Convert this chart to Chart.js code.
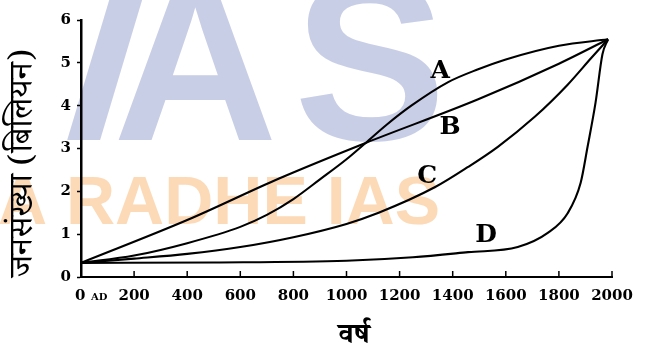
<!DOCTYPE html>
<html>
<head>
<meta charset="utf-8">
<script src="https://cdn.jsdelivr.net/npm/chart.js@4.4.1/dist/chart.umd.min.js"></script>
<style>
  html, body { margin: 0; padding: 0; background: #fff; }
  #wrap { width: 652px; height: 356px; }
</style>
</head>
<body>
<div id="wrap"><canvas id="chart" width="652" height="356"></canvas></div>
<script>
// --- Data (years, population in billions) ---
const yearTicks = [0, 200, 400, 600, 800, 1000, 1200, 1400, 1600, 1800, 2000];
const popTicks = [0, 1, 2, 3, 4, 5, 6];

const yearsA = [0, 200, 400, 600, 700, 800, 900, 1000, 1072, 1150, 1244, 1383, 1496, 1600, 1800, 1985];
const popA   = [0.33, 0.5, 0.79, 1.17, 1.45, 1.82, 2.28, 2.75, 3.13, 3.55, 4.0, 4.55, 4.85, 5.08, 5.4, 5.55];

const yearsB = [0, 400, 746, 1072, 1496, 1800, 1985];
const popB   = [0.33, 1.33, 2.3, 3.13, 4.15, 4.98, 5.55];

const yearsC = [0, 200, 400, 600, 800, 1000, 1121, 1334, 1458, 1570, 1709, 1833, 1920, 1985];
const popC   = [0.33, 0.43, 0.54, 0.7, 0.93, 1.24, 1.5, 2.1, 2.57, 3.04, 3.74, 4.49, 5.1, 5.55];

const yearsD = [0, 500, 1000, 1250, 1458, 1645, 1758, 1833, 1882, 1908, 1938, 1964, 1985];
const popD   = [0.33, 0.34, 0.38, 0.46, 0.58, 0.7, 1.03, 1.49, 2.2, 3.04, 4.07, 5.2, 5.55];

// curve names and where they are written (in data units)
const curveNames = ['A', 'B', 'C', 'D'];
const nameYears  = [1353, 1390, 1304, 1526];
const nameValues = [4.79, 3.5, 2.34, 0.98];

const xTitle = 'वर्ष';
const yTitle = 'जनसंख्या (बिलियन)';

// --- Helpers ---
function toPoints(xs, ys) {
    return xs.map((x, i) => ({ x: x, y: ys[i] }));
}

function curve(label, xs, ys) {
    return {
        label: label,
        data: toPoints(xs, ys),
        borderColor: '#000',
        borderWidth: 2.1,
        pointRadius: 0,
        fill: false,
        cubicInterpolationMode: 'monotone'
    };
}

const serif = '"DejaVu Serif", serif';
const deva = '"Noto Serif Devanagari", "Noto Sans Devanagari", "Lohit Devanagari", "FreeSerif", serif';

// watermarks, axis titles, curve names, inward x ticks
const decorPlugin = {
    id: 'decor',
    beforeDraw(chart) {
        const ctx = chart.ctx;
        ctx.save();
        ctx.fillStyle = '#fff';
        ctx.fillRect(0, 0, chart.width, chart.height);
        ctx.textBaseline = 'alphabetic';
        ctx.fillStyle = '#c9cee7';
        ctx.font = 'bold 228px "Liberation Sans", sans-serif';
        ctx.fillText('A', 113, 140);
        ctx.fillText('S', 294, 140);
        // slanted I of the logo
        ctx.save();
        ctx.translate(52, 140);
        ctx.transform(1, 0, -0.3, 1, 0, 0);
        ctx.fillText('I', 0, 0);
        ctx.restore();
        ctx.fillStyle = '#fcdab7';
        ctx.font = 'bold 68px "Liberation Sans", sans-serif';
        ctx.fillText('A RADHE IAS', -2, 224);
        ctx.restore();
    },
    afterDraw(chart) {
        const ctx = chart.ctx;
        const xs = chart.scales.x, ys = chart.scales.y;
        ctx.save();
        ctx.fillStyle = '#000';
        ctx.strokeStyle = '#000';

        // inward ticks on the year axis
        ctx.lineWidth = 1.5;
        yearTicks.slice(1).forEach(t => {
            const px = xs.getPixelForValue(t);
            ctx.beginPath();
            ctx.moveTo(px, ys.bottom);
            ctx.lineTo(px, ys.bottom - 6);
            ctx.stroke();
        });

        // "0 AD" first label
        ctx.textBaseline = 'alphabetic';
        ctx.textAlign = 'left';
        ctx.font = 'bold 15px ' + serif;
        const x0 = xs.getPixelForValue(0) - 6;
        ctx.fillText('0', x0, 300);
        ctx.font = 'bold 10px ' + serif;
        ctx.fillText('AD', x0 + 16, 300);

        // curve names
        ctx.font = 'bold 25px ' + serif;
        ctx.textAlign = 'center';
        ctx.textBaseline = 'middle';
        curveNames.forEach((n, i) => {
            ctx.fillText(n, xs.getPixelForValue(nameYears[i]), ys.getPixelForValue(nameValues[i]));
        });

        // axis titles
        ctx.font = 'bold 29px ' + deva;
        ctx.fillText(xTitle, 354, 340);
        ctx.translate(29, 163);
        ctx.rotate(-Math.PI / 2);
        ctx.font = '33px ' + deva;
        ctx.fillText(yTitle, 0, 0);
        ctx.restore();
    }
};

new Chart(document.getElementById('chart'), {
    type: 'line',
    data: {
        datasets: [
            curve('A', yearsA, popA),
            curve('B', yearsB, popB),
            curve('C', yearsC, popC),
            curve('D', yearsD, popD)
        ]
    },
    options: {
        responsive: false,
        animation: false,
        layout: { padding: { left: 0, right: 40, top: 20, bottom: 0 } },
        plugins: { legend: { display: false }, tooltip: { enabled: false } },
        scales: {
            x: {
                type: 'linear',
                min: 0,
                max: 2000,
                afterBuildTicks: s => { s.ticks = yearTicks.map(v => ({ value: v })); },
                afterFit: s => { s.height = 79; },
                grid: { drawOnChartArea: false, drawTicks: false },
                border: { color: '#000', width: 2 },
                ticks: {
                    color: '#000',
                    padding: 10,
                    maxRotation: 0,
                    autoSkip: false,
                    font: { family: serif, size: 15, weight: 'bold' },
                    callback: v => (v === 0 ? '' : String(v))
                }
            },
            y: {
                min: 0,
                max: 6,
                afterBuildTicks: s => { s.ticks = popTicks.map(v => ({ value: v })); },
                afterFit: s => { s.width = 81; },
                grid: { drawOnChartArea: false, drawTicks: true, tickLength: 4, color: '#000', tickWidth: 1.5 },
                border: { color: '#000', width: 2.5 },
                ticks: {
                    color: '#000',
                    padding: 6,
                    font: { family: serif, size: 15, weight: 'bold' }
                }
            }
        }
    },
    plugins: [decorPlugin]
});
</script>
</body>
</html>
